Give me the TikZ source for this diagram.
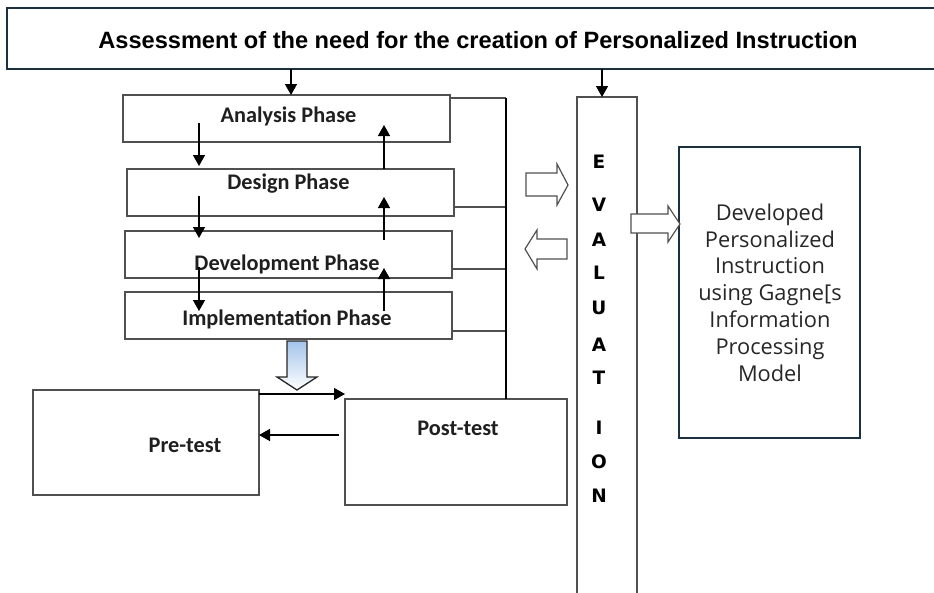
\documentclass[tikz,border=0pt]{standalone}
\usepackage{fontspec}
\setmainfont{Liberation Sans}
\newfontfamily\calfont{Carlito}
\newfontfamily\dvfont{DejaVu Sans}
\newfontfamily\osfont{Open Sans}
\usetikzlibrary{arrows.meta,fit}
\definecolor{navy}{HTML}{1B3040}
\definecolor{boxgray}{HTML}{505050}
\definecolor{lblue}{HTML}{A4C4EC}
\begin{document}
\begin{tikzpicture}[x=1pt,y=-1pt,
  phasebox/.style={draw=boxgray,line width=1.3pt,inner sep=0pt,outer sep=0pt},
  navybox/.style={draw=navy,line width=2pt,inner sep=0pt,outer sep=0pt},
  phasetext/.style={font=\calfont\bfseries\fontsize{22.3}{26}\selectfont,text=black!88,inner sep=0pt},
  evalletter/.style={font=\dvfont\bfseries\fontsize{18.5}{21}\selectfont,inner sep=0pt},
  arr/.style={line width=1.5pt,-{Triangle[length=11pt,width=12pt]}},
  conn/.style={draw=boxgray,line width=1.2pt},
  hollow/.style={draw=boxgray,line width=1.2pt,fill=white,line join=miter},
]
\useasboundingbox (0,0) rectangle (934,592);

% top box
\node[navybox,fit={(7,8) (960,69)}] (top) {};
\node[font=\bfseries\fontsize{23.6}{28}\selectfont,inner sep=0pt] (toptext) at (478,40) {Assessment of the need for the creation of Personalized Instruction};

% phase boxes
\node[phasebox,fit={(123,95) (450,142)}] (analysis) {};
\node[phasebox,fit={(127,169) (454,216)}] (design) {};
\node[phasebox,fit={(125,231) (452,278)}] (development) {};
\node[phasebox,fit={(125,292) (452,339)}] (implementation) {};
\node[phasetext] (analysistext) at (288.5,116) {Analysis Phase};
\node[phasetext] (designtext) at (288.5,184) {Design Phase};
\node[phasetext] (developmenttext) at (287,264) {Development Phase};
\node[phasetext] (implementationtext) at (287,319) {Implementation Phase};

% evaluation box
\node[draw=boxgray,line width=1.3pt,inner sep=0pt,outer sep=0pt,fit={(577,97) (637,610)}] (eval) {};
\foreach \L/\yy [count=\i] in {E/162,V/205,A/240,L/273,U/308,A/345,T/378,I/428,O/462,N/496}{
  \node[evalletter] (ev\i) at (599,\yy) {\L};
}

% developed box
\node[navybox,fit={(679,147) (860,438)}] (developed) {};
\node[font=\osfont\fontsize{21.8}{26.8}\selectfont,align=center,inner sep=0pt,text=black!85] (developedtext) at (770,292.5)
  {Developed\\Personalized\\Instruction\\using Gagne[s\\Information\\Processing\\Model};

% pre/post test
\node[phasebox,fit={(33,390) (259,495)}] (pre) {};
\node[phasebox,fit={(345,399) (567,505)}] (post) {};
\node[phasetext] (pretext) at (185,445) {Pre-test};
\node[phasetext] (posttext) at (458,428) {Post-test};

% helper coordinates
\coordinate (xd) at (199,0);
\coordinate (xu) at (384,0);
\coordinate (bus) at (506,0);
\coordinate (xt1) at (291,0);
\coordinate (xt2) at (602,0);

% arrows from top box
\draw[arr] (top.south -| xt1) -- (analysis.north -| xt1);
\draw[arr] (top.south -| xt2) -- (eval.north -| xt2);

% down arrows
\draw[arr,shorten <=-19pt,shorten >=3pt] (analysis.south -| xd) -- (design.north -| xd);
\draw[arr,shorten <=-20pt,shorten >=-7pt] (design.south -| xd) -- (development.north -| xd);
\draw[arr,shorten <=-11pt,shorten >=-19pt] (development.south -| xd) -- (implementation.north -| xd);
% up arrows
\draw[arr,shorten >=-17pt] (design.north -| xu) -- (analysis.south -| xu);
\draw[arr,shorten <=-9pt,shorten >=-19pt] (development.north -| xu) -- (design.south -| xu);
\draw[arr,shorten <=-19pt,shorten >=-10pt] (implementation.north -| xu) -- (development.south -| xu);

% bus connectors
\draw[conn] ([yshift=-3pt]analysis.north east) -- ([yshift=-3pt]analysis.north east -| bus);
\draw[conn] ([yshift=9pt]design.south east) -- ([yshift=9pt]design.south east -| bus);
\draw[conn] ([yshift=9pt]development.south east) -- ([yshift=9pt]development.south east -| bus);
\draw[conn] ([yshift=8pt]implementation.south east) -- ([yshift=8pt]implementation.south east -| bus);
\draw[line width=1.8pt] ([yshift=-3pt]analysis.north east -| bus) -- (post.north -| bus);

% pre/post arrows
\draw[arr] ([yshift=-4pt]pre.north east) -- ([yshift=-4pt]pre.north east -| post.west);
\draw[arr] ([shift={(-6pt,17pt)}]post.west) -- ([yshift=17pt]post.west -| pre.east);

% block arrow down
\shadedraw[draw=black!85,line width=1.3pt,top color=lblue,bottom color=white,line join=miter]
  (287,341) -- (307,341) -- (307,377) -- (317,377) -- (297,390) -- (277,377) -- (287,377) -- cycle;

% hollow arrows
\draw[hollow] (526,173) -- (557,173) -- (557,164) -- (568,185) -- (557,205) -- (557,196) -- (526,196) -- cycle;
\draw[hollow] (567,239) -- (537,239) -- (537,230) -- (525,249) -- (537,269) -- (537,259) -- (567,259) -- cycle;
\draw[hollow] (631,214) -- (668,214) -- (668,206) -- (680,224) -- (668,242) -- (668,233) -- (631,233) -- cycle;
\end{tikzpicture}
\end{document}
